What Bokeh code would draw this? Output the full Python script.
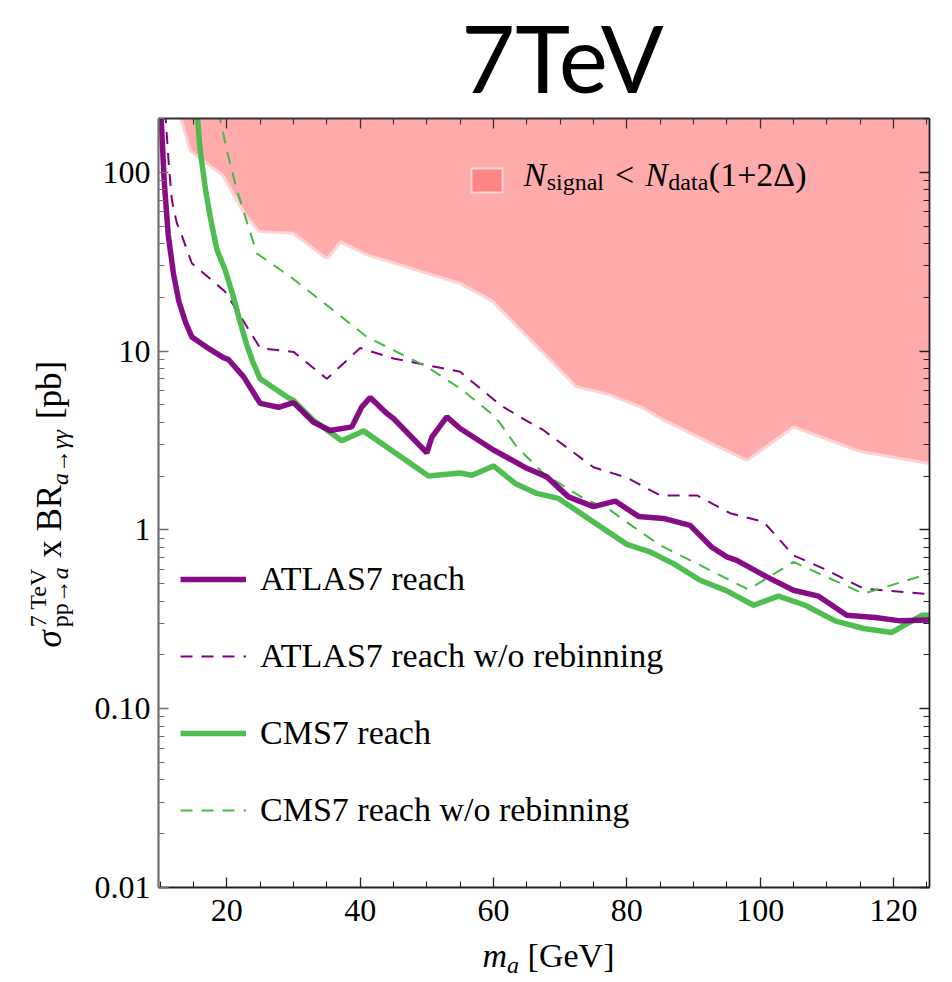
import math
from bokeh.plotting import figure
from bokeh.models import (Range1d, FixedTicker, LinearAxis, LogAxis, CustomJSTickFormatter,
                          Label, Legend, LegendItem)
from bokeh.layouts import column, row
from bokeh.embed import file_html
from bokeh.resources import INLINE

# ---------------- data ----------------
# excluded region boundary: N_signal < N_data(1+2Delta)
excl_x = [13.0, 14.75, 19.5, 23.0, 25.0, 30.0, 35.0, 37.0, 41.0, 50.0, 55.0, 60.0, 72.5,
          77.5, 82.5, 85.5, 98.0, 105.0, 115.0, 125.4]
excl_y = [220, 133, 98, 58, 47.5, 46.5, 33.7, 41.8, 35.3, 27.8, 24.4, 19.3, 6.45,
          5.8, 4.9, 4.2, 2.5, 3.85, 2.8, 2.4]

atlas_x = [10.1, 10.6, 11.2, 12.0, 12.8, 13.8, 14.75, 17.0, 19.5, 20.2, 22.5, 25.0, 27.75,
           30.0, 33.0, 35.5, 38.75, 40.25, 41.5, 44.0, 45.0, 50.0, 50.75, 53.0, 55.0, 60.0,
           62.0, 65.0, 68.0, 71.25, 75.0, 78.25, 81.75, 85.5, 89.5, 92.75, 95.0, 96.5, 101.0,
           105.0, 108.75, 113.0, 117.25, 121.0, 125.4]
atlas_y = [220, 90, 45, 27, 19, 14.5, 12.0, 10.5, 9.2, 9.0, 7.2, 5.1, 4.85,
           5.15, 4.0, 3.6, 3.77, 4.88, 5.5, 4.48, 4.2, 2.7, 3.3, 4.29, 3.69, 2.8,
           2.55, 2.21, 1.98, 1.53, 1.35, 1.45, 1.19, 1.16, 1.06, 0.80, 0.707, 0.676, 0.546,
           0.46, 0.426, 0.333, 0.324, 0.31, 0.313]

atlas_norebin_x = [10.75, 11.3, 11.75, 12.5, 13.0, 14.0, 14.75, 19.75, 25.0, 30.0, 35.0, 40.0,
                   45.0, 55.0, 61.0, 64.0, 67.5, 75.0, 80.0, 85.0, 90.5, 95.5, 100.5, 105.0,
                   109.5, 115.5, 125.4]
atlas_norebin_y = [220, 110, 70, 52, 47, 37, 31, 21.5, 10.4, 9.9, 7.0, 10.4,
                   9.1, 7.66, 5.0, 4.28, 3.61, 2.24, 1.96, 1.56, 1.56, 1.24, 1.11, 0.72,
                   0.608, 0.47, 0.437]

cms_x = [15.5, 16.0, 16.8, 17.5, 18.5, 19.75, 21.0, 22.0, 23.0, 24.0, 25.0, 29.0, 30.0, 33.0,
         37.25, 40.5, 50.25, 55.0, 56.75, 60.0, 63.25, 66.5, 69.75, 80.0, 83.5, 87.0, 91.0,
         95.0, 99.0, 102.75, 106.75, 111.25, 115.5, 119.75, 124.25, 125.4]
cms_y = [220, 133, 80, 56.5, 37, 28.4, 20, 14.5, 10.8, 8.5, 7.0, 5.55, 5.3, 4.1,
         3.15, 3.58, 2.0, 2.08, 2.02, 2.28, 1.82, 1.60, 1.50, 0.83, 0.753, 0.648, 0.523,
         0.456, 0.379, 0.426, 0.379, 0.31, 0.281, 0.267, 0.333, 0.333]

cms_norebin_x = [18.75, 20.0, 21.5, 24.5, 29.5, 36.0, 41.0, 50.0, 55.0, 60.0, 61.0, 63.5,
                 67.5, 73.5, 77.5, 81.0, 85.0, 90.5, 98.25, 105.0, 115.5, 125.4]
cms_norebin_y = [220, 133, 79.6, 35.2, 26.1, 16.9, 12.0, 8.17, 6.18, 4.38, 3.94, 2.91,
                 2.07, 1.50, 1.29, 1.04, 0.82, 0.648, 0.464, 0.662, 0.44, 0.57]

x_major = [20, 40, 60, 80, 100, 120]
x_minor = [10, 15, 25, 30, 35, 45, 50, 55, 65, 70, 75, 85, 90, 95, 105, 110, 115, 125]
y_major = [0.01, 0.1, 1, 10, 100]
y_minor = [k * 10.0 ** d for d in range(-2, 3) for k in range(2, 10)]

legend_labels = ["ATLAS7 reach", "ATLAS7 reach w/o rebinning", "CMS7 reach",
                 "CMS7 reach w/o rebinning"]
title_text = "7TeV"

# ---------------- styling ----------------
PURPLE = "#800080"
GREEN = "#46b946"
PINK = "#ffabab"
PINK_DARK = "#ff8585"
PINK_EDGE = "#ffd3d3"
SERIF = "Liberation Serif"
KB = 0.385   # empirical offset of the rendered alphabetic baseline (fraction of font size)

W_CANVAS, H_CANVAS = 952, 982
# frame geometry (canvas pixels)
FL, FR, FT, FB = 158, 929, 118, 887
# layout strips
TITLE_H = 114          # canvas rows 0..114
XLAB_TOP = 936         # canvas rows 936..982
YLAB_W = 80            # canvas cols 0..80
MAIN_H = XLAB_TOP - TITLE_H

def no_align(f):
    if "frame_align" in f.properties():
        f.frame_align = False

x_range = Range1d(9.75, 125.4)
y_range = Range1d(0.01, 200)

p = figure(frame_width=FR - FL, frame_height=FB - FT,
           x_range=x_range, y_range=y_range, y_axis_type="log",
           output_backend="svg", toolbar_location=None,
           min_border_left=FL - YLAB_W, min_border_right=W_CANVAS - FR,
           min_border_top=FT - TITLE_H, min_border_bottom=XLAB_TOP - FB)
no_align(p)
p.outline_line_color = None
p.xgrid.visible = False
p.ygrid.visible = False
p.background_fill_color = "white"
p.border_fill_color = "white"

def style_axis(ax, labels=True, color="black", width=1.6):
    ax.major_tick_in = 10
    ax.major_tick_out = 0
    ax.minor_tick_in = 6
    ax.minor_tick_out = 0
    ax.axis_line_color = color
    ax.axis_line_width = width
    ax.major_tick_line_color = color
    ax.minor_tick_line_color = color
    ax.major_tick_line_width = 1.3
    ax.minor_tick_line_width = 1.1
    ax.major_label_text_font = SERIF
    ax.major_label_text_font_size = "32px"
    ax.major_label_text_color = "black"
    if not labels:
        ax.formatter = CustomJSTickFormatter(code="return ''")
        ax.major_label_standoff = 0
        ax.major_label_text_font_size = "0px"

xa = p.xaxis[0]
xa.ticker = FixedTicker(ticks=x_major, minor_ticks=x_minor)
style_axis(xa, color="#222222", width=1.8)
xa.major_label_standoff = 12

ya = p.yaxis[0]
ya.ticker = FixedTicker(ticks=y_major, minor_ticks=y_minor)
ya.formatter = CustomJSTickFormatter(code="return tick >= 1 ? tick.toFixed(0) : tick.toFixed(2);")
style_axis(ya, color="#707070", width=2.2)
ya.major_label_standoff = 8

top = LinearAxis(ticker=FixedTicker(ticks=x_major, minor_ticks=x_minor))
style_axis(top, labels=False, color="#333333", width=1.8)
p.add_layout(top, "above")
right = LogAxis(ticker=FixedTicker(ticks=y_major, minor_ticks=y_minor))
style_axis(right, labels=False, color="#222222", width=1.8)
p.add_layout(right, "right")

# ---------------- glyphs ----------------
ytop = y_range.end * 5
poly_x = excl_x + [x_range.end + 5, excl_x[0]]
poly_y = excl_y + [ytop, ytop]
# darker copy (fully hidden under the region) only supplies the legend swatch colour
r_sw = p.patch(poly_x, poly_y, fill_color=PINK_DARK, line_color=PINK_EDGE, line_width=2)
p.line(excl_x, excl_y, line_color=PINK_EDGE, line_width=6)
p.patch(poly_x, poly_y, fill_color=PINK, line_color=None)

r_an = p.line(atlas_norebin_x, atlas_norebin_y, line_color=PURPLE, line_width=2,
              line_dash="12 9")
r_cn = p.line(cms_norebin_x, cms_norebin_y, line_color=GREEN, line_width=2,
              line_dash="12 9")
r_c = p.line(cms_x, cms_y, line_color=GREEN, line_width=5.5, line_alpha=0.95)
r_a = p.line(atlas_x, atlas_y, line_color=PURPLE, line_width=5.5, line_alpha=0.95)

def FX(ox):
    return ox - FL

def FY(oy):
    return FB - oy

leg1 = Legend(items=[LegendItem(label=" ", renderers=[r_sw])],
              location=(FX(467), FY(195)), glyph_width=39, glyph_height=30,
              padding=0, margin=0, border_line_color=None, background_fill_alpha=0,
              label_text_font_size="1px", label_standoff=0)
p.add_layout(leg1)

leg2 = Legend(items=[LegendItem(label=legend_labels[0], renderers=[r_a]),
                     LegendItem(label=legend_labels[1], renderers=[r_an]),
                     LegendItem(label=legend_labels[2], renderers=[r_c]),
                     LegendItem(label=legend_labels[3], renderers=[r_cn])],
              location=(FX(180), FY(830)), glyph_width=66, glyph_height=40,
              label_height=40, spacing=37, label_standoff=14,
              label_text_font=SERIF, label_text_font_size="34px",
              label_text_color="black",
              padding=0, margin=0, border_line_color=None, background_fill_alpha=0)
p.add_layout(leg2)

# ---------------- composite texts ----------------
WID = {" ": 250, "(": 333, ")": 333, "+": 564, "1": 500, "2": 500, "7": 500, "<": 564,
       "[": 333, "]": 333, "/": 278, "A": 722, "B": 667, "C": 667, "G": 722, "L": 611,
       "M": 889, "N": 722, "R": 667, "S": 556, "T": 611, "V": 722, "a": 444, "b": 500,
       "c": 444, "d": 500, "e": 444, "g": 500, "h": 500, "i": 278, "l": 278, "n": 500,
       "o": 500, "p": 500, "r": 333, "s": 389, "t": 278, "w": 722, "x": 500, "Δ": 612,
       "σ": 550, "γ": 440, "→": 1000, "m": 778}
WID_IT = {"N": 667, "m": 722, "a": 500, "σ": 550, "γ": 440}

def tw(s, size, italic=False):
    tot = 0
    for c in s:
        tot += (WID_IT.get(c, WID.get(c, 500)) if italic else WID.get(c, 500))
    return tot * size / 1000.0

def make_label(x, y, text, size, italic=False, angle=0.0, font=SERIF, align="left",
               units="data"):
    # (x, y) is the wanted alphabetic baseline point; leading spaces become an offset
    lead = len(text) - len(text.lstrip(" "))
    adv = tw(" " * lead, size)
    text = text.lstrip(" ")
    if angle == 0.0:
        x += adv
        y += KB * size
    else:  # rotated +90 degrees: text runs upward, glyph "down" points to +x
        y += adv
        x -= KB * size
    return Label(x=x, y=y, x_units=units, y_units=units, text=text,
                 text_font=font, text_font_size=f"{size}px",
                 text_font_style="italic" if italic else "normal",
                 text_align=align, text_baseline="alphabetic", angle=angle,
                 text_color="black")

# legend text inside the frame: N_signal < N_data(1+2Δ)
F, S = 34, 24
bx, by = FX(523), FY(187)
def put_main(x, y, text, size, italic=False):
    p.add_layout(make_label(x, y, text, size, italic=italic, units="screen"))
put_main(bx, by, "N", F, italic=True); bx += tw("N", F, True) + 0.5
put_main(bx, by - 4, "signal", S); bx += tw("signal", S) + 11
put_main(bx, by, "<", F); bx += tw("<", F) + 11
put_main(bx, by, "N", F, italic=True); bx += tw("N", F, True) + 0.5
put_main(bx, by - 4, "data", S); bx += tw("data", S) + 0.5
put_main(bx, by, "(1+2Δ)", F)

def blank_fig(w, h, x0, x1, y0, y1, bl=0, br=0, bt=0, bb=0):
    f = figure(width=w, height=h, x_range=Range1d(x0, x1), y_range=Range1d(y0, y1),
               x_axis_type=None, y_axis_type=None, toolbar_location=None,
               output_backend="svg", min_border=0)
    f.min_border_left, f.min_border_right = bl, br
    f.min_border_top, f.min_border_bottom = bt, bb
    no_align(f)
    f.outline_line_color = None
    f.background_fill_color = "white"
    f.border_fill_color = "white"
    return f

# title strip: canvas rows 0..TITLE_H; frame columns FL..FR so that data x = canvas x
tfig = blank_fig(W_CANVAS, TITLE_H, FL, FR, 0, TITLE_H, bl=FL, br=W_CANVAS - FR)
tfig.add_layout(make_label(562, TITLE_H - 92, title_text, 93, font="Lato", align="center"))

# x-label strip: canvas rows XLAB_TOP..H_CANVAS
XH = H_CANVAS - XLAB_TOP
xfig = blank_fig(W_CANVAS, XH, FL, FR, 0, XH, bl=FL, br=W_CANVAS - FR)
F, S = 34, 24
total = tw("m", F, True) + tw("a", S, True) + tw(" [GeV]", F)
bx, by = 548 - total / 2, H_CANVAS - 968
xfig.add_layout(make_label(bx, by, "m", F, italic=True)); bx += tw("m", F, True)
xfig.add_layout(make_label(bx, by - 6, "a", S, italic=True)); bx += tw("a", S, True)
xfig.add_layout(make_label(bx, by, " [GeV]", F))

# y-label strip: canvas cols 0..YLAB_W, frame rows FT..FB (data y = FB - canvas y)
yfig = blank_fig(YLAB_W, MAIN_H, 0, YLAB_W, 0, FB - FT, bt=FT - TITLE_H, bb=XLAB_TOP - FB)
def ypos(oy):
    return FB - oy
F, S = 35, 24
ang = math.pi / 2
base_main, base_sup, base_sub = 62, 47, 69
s = ypos(647)
def put_y(base, pos, text, size, italic=False):
    yfig.add_layout(make_label(base, pos, text, size, italic=italic, angle=ang))
put_y(base_main, s, "σ", F, True); s += tw("σ", F, True) + 1
put_y(base_sup, s, "7 TeV", S)
put_y(base_sub, s, "pp→", S)
put_y(base_sub, s + tw("pp→", S), "a", S, True)
s += max(tw("7 TeV", S), tw("pp→", S) + tw("a", S, True))
put_y(base_main, s, " x BR", F); s += tw(" x BR", F)
put_y(base_sub, s, "a", S, True); s += tw("a", S, True)
put_y(base_sub, s, "→", S); s += tw("→", S)
put_y(base_sub, s, "γγ", S, True); s += tw("γγ", S, True)
put_y(base_main, s, " [pb]", F)

layout = column(tfig, row(yfig, p), xfig)
open("out.html", "w").write(file_html(layout, INLINE))
